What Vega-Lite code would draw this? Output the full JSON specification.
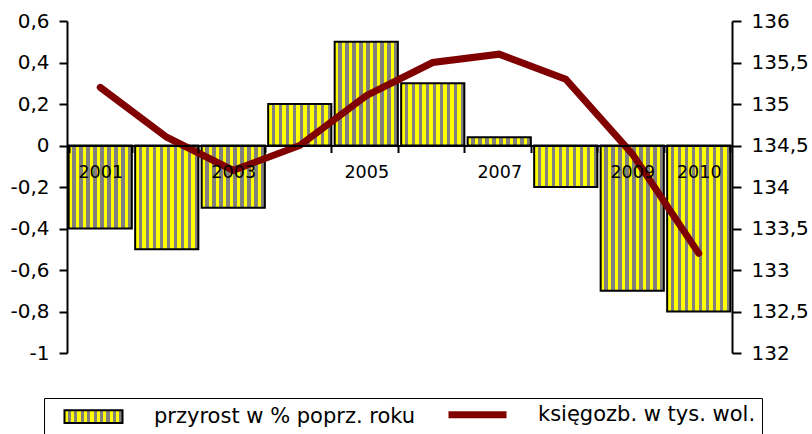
{
  "$schema": "https://vega.github.io/schema/vega-lite/v6.json",
  "width": 665,
  "height": 332,
  "autosize": "none",
  "padding": {"left": 67, "top": 21, "right": 80, "bottom": 81},
  "background": "white",
  "config": {"view": {"stroke": null}, "font": "DejaVu Sans"},
  "data": {"values": [
    {"year": "2001", "pct": -0.4, "vol": 135.2},
    {"year": "2002", "pct": -0.5, "vol": 134.6},
    {"year": "2003", "pct": -0.3, "vol": 134.2},
    {"year": "2004", "pct": 0.2, "vol": 134.5},
    {"year": "2005", "pct": 0.5, "vol": 135.1},
    {"year": "2006", "pct": 0.3, "vol": 135.5},
    {"year": "2007", "pct": 0.04, "vol": 135.6},
    {"year": "2008", "pct": -0.2, "vol": 135.3},
    {"year": "2009", "pct": -0.7, "vol": 134.4},
    {"year": "2010", "pct": -0.8, "vol": 133.2}
  ]},
  "encoding": {
    "x": {
      "field": "year", "type": "ordinal",
      "scale": {"paddingInner": 0.05, "paddingOuter": 0.025},
      "axis": {
        "title": null, "orient": "bottom", "offset": -207.5, "tickBand": "extent",
        "tickSize": 7, "tickWidth": 2, "tickColor": "black", "domainColor": "black", "domainWidth": 2,
        "labelAngle": 0, "labelFontSize": 17.5, "labelFont": "DejaVu Sans", "labelColor": "black", "labelPadding": 11,
        "labelExpr": "indexof(['2002','2004','2006','2008'], datum.label) >= 0 ? '' : datum.label",
        "zindex": 1
      }
    }
  },
  "layer": [
    {
      "mark": {"type": "bar", "strokeWidth": 2,
        "fill": {"gradient": "linear", "x1": 0, "y1": 0, "x2": 1, "y2": 0, "stops": [
          {"offset": 0, "color": "#ffff00"}, {"offset": 0.05556, "color": "#ffff00"},
          {"offset": 0.05556, "color": "#808080"}, {"offset": 0.11111, "color": "#808080"},
          {"offset": 0.11111, "color": "#ffff00"}, {"offset": 0.16667, "color": "#ffff00"},
          {"offset": 0.16667, "color": "#808080"}, {"offset": 0.22222, "color": "#808080"},
          {"offset": 0.22222, "color": "#ffff00"}, {"offset": 0.27778, "color": "#ffff00"},
          {"offset": 0.27778, "color": "#808080"}, {"offset": 0.33333, "color": "#808080"},
          {"offset": 0.33333, "color": "#ffff00"}, {"offset": 0.38889, "color": "#ffff00"},
          {"offset": 0.38889, "color": "#808080"}, {"offset": 0.44444, "color": "#808080"},
          {"offset": 0.44444, "color": "#ffff00"}, {"offset": 0.5, "color": "#ffff00"},
          {"offset": 0.5, "color": "#808080"}, {"offset": 0.55556, "color": "#808080"},
          {"offset": 0.55556, "color": "#ffff00"}, {"offset": 0.61111, "color": "#ffff00"},
          {"offset": 0.61111, "color": "#808080"}, {"offset": 0.66667, "color": "#808080"},
          {"offset": 0.66667, "color": "#ffff00"}, {"offset": 0.72222, "color": "#ffff00"},
          {"offset": 0.72222, "color": "#808080"}, {"offset": 0.77778, "color": "#808080"},
          {"offset": 0.77778, "color": "#ffff00"}, {"offset": 0.83333, "color": "#ffff00"},
          {"offset": 0.83333, "color": "#808080"}, {"offset": 0.88889, "color": "#808080"},
          {"offset": 0.88889, "color": "#ffff00"}, {"offset": 0.94444, "color": "#ffff00"},
          {"offset": 0.94444, "color": "#808080"}, {"offset": 1, "color": "#808080"}
        ]}
      },
      "encoding": {
        "y": {
          "field": "pct", "type": "quantitative",
          "scale": {"domain": [-1, 0.6], "nice": false},
          "axis": {
            "title": null, "orient": "left", "grid": false,
            "values": [-1, -0.8, -0.6, -0.4, -0.2, 0, 0.2, 0.4, 0.6],
            "labelExpr": "replace(toString(datum.value), '.', ',')",
            "tickSize": 8, "tickWidth": 2, "tickColor": "black", "domainColor": "black", "domainWidth": 2,
            "labelFontSize": 20, "labelFont": "DejaVu Sans", "labelColor": "black", "labelPadding": 10, "zindex": 1
          }
        },
        "stroke": {
          "datum": "przyrost w % poprz. roku", "type": "nominal",
          "scale": {
            "domain": ["przyrost w % poprz. roku", "księgozb. w tys. wol."],
            "range": ["black", "#800000"]
          },
          "legend": {
            "title": null, "orient": "none", "legendX": -23, "legendY": 377, "direction": "horizontal",
            "strokeColor": "black", "padding": 6, "symbolOffset": 33, "labelOffset": 50, "columnPadding": 18,
            "labelFontSize": 21, "labelFont": "DejaVu Sans", "labelColor": "black", "labelLimit": 500,
            "symbolSize": 3364, "symbolOpacity": 1,
            "symbolType": {"expr": "datum.value === 'księgozb. w tys. wol.' ? 'stroke' : 'M-1,-0.22H1V0.22H-1Z'"},
            "symbolStrokeWidth": {"expr": "datum.value === 'księgozb. w tys. wol.' ? 7 : 2"}
          }
        }
      }
    },
    {
      "mark": {"type": "line", "strokeWidth": 7, "strokeCap": "round"},
      "encoding": {
        "y": {
          "field": "vol", "type": "quantitative",
          "scale": {"domain": [132, 136], "nice": false, "zero": false},
          "axis": {
            "title": null, "orient": "right", "grid": false,
            "values": [132, 132.5, 133, 133.5, 134, 134.5, 135, 135.5, 136],
            "labelExpr": "replace(toString(datum.value), '.', ',')",
            "tickSize": 9, "tickWidth": 2, "tickColor": "black", "domainColor": "black", "domainWidth": 2,
            "labelFontSize": 20, "labelFont": "DejaVu Sans", "labelColor": "black", "labelPadding": 10, "zindex": 1
          }
        },
        "stroke": {"datum": "księgozb. w tys. wol.", "type": "nominal"}
      }
    }
  ],
  "resolve": {"scale": {"y": "independent"}}
}
